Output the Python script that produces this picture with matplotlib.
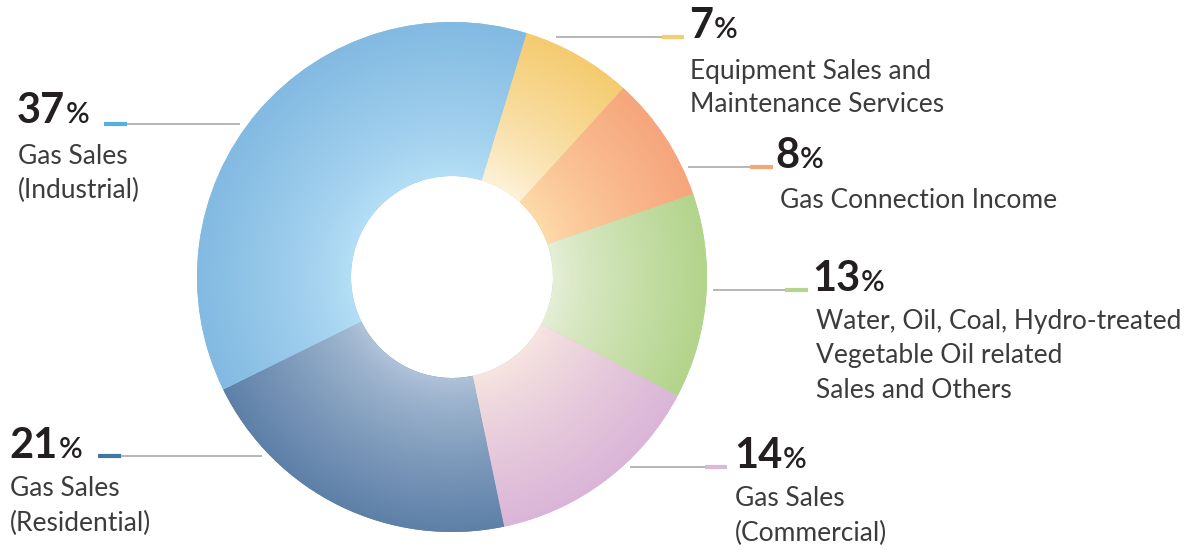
import numpy as np
import matplotlib.pyplot as plt
from matplotlib.colors import to_rgb

# data (clockwise from the top)
labels = [
    ['Equipment Sales and', 'Maintenance Services'],
    ['Gas Connection Income'],
    ['Water, Oil, Coal, Hydro-treated', 'Vegetable Oil related', 'Sales and Others'],
    ['Gas Sales', '(Commercial)'],
    ['Gas Sales', '(Residential)'],
    ['Gas Sales', '(Industrial)'],
]
values = [7, 8, 13, 14, 21, 37]
outer_colors = ['#F5CB70', '#F6A57C', '#B3D48B', '#DAB5D8', '#5E80A8', '#83BAE2']
inner_colors = ['#FDF3DC', '#FEDCAA', '#E6EFD8', '#F7E6E0', '#B0C3D9', '#B5DFF6']
mark_colors = ['#F5CD72', '#F5A77A', '#B5D58E', '#DDB8DA', '#3E77A3', '#55B0E0']

W, H = 1192, 550
cx, cy = 452, H - 277
r_out, r_in = 255, 101

# label layout in pixels (image y goes down)
gray_x = [(556, 662), (688, 750), (713, 785), (630, 705), (121, 262), (127, 240)]
mark_x = [(662, 684), (750, 773), (785, 808), (705, 727), (98, 121), (104, 127)]
line_y = [37, 167, 290, 467, 456, 124]
num_pos = [(689, 38), (775, 168), (812, 291), (734, 468), (9, 458), (17, 123)]
text_pos = [(690, 71), (780, 200), (816, 322), (735, 499), (10, 489), (18, 156)]
step = 34

fig = plt.figure(figsize=(W / 100, H / 100), dpi=100)
ax = fig.add_axes([0, 0, 1, 1])

wedges, _ = ax.pie(values, radius=r_out, center=(cx, cy), startangle=73,
                   counterclock=False, colors=outer_colors,
                   wedgeprops=dict(width=r_out - r_in, linewidth=0))

# radial gradient inside each wedge
xs = np.linspace(cx - r_out, cx + r_out, 600)
ys = np.linspace(cy - r_out, cy + r_out, 600)
gx, gy = np.meshgrid(xs, ys)
t = np.clip((np.hypot(gx - cx, gy - cy) - r_in) / (r_out - r_in), 0, 1)
for w, c0, c1 in zip(wedges, inner_colors, outer_colors):
    a, b = np.array(to_rgb(c0)), np.array(to_rgb(c1))
    img = a + (b - a) * t[..., None] ** 0.8
    im = ax.imshow(img, extent=(xs[0], xs[-1], ys[0], ys[-1]), origin='lower',
                   interpolation='bilinear', zorder=2)
    im.set_clip_path(w)

ax.set_xlim(0, W)
ax.set_ylim(0, H)
ax.set_aspect('equal')
ax.axis('off')

fig.canvas.draw()
renderer = fig.canvas.get_renderer()
for i, v in enumerate(values):
    ax.plot(gray_x[i], [H - line_y[i]] * 2, color='#A3A3A3', lw=1.1,
            solid_capstyle='butt', zorder=3)
    ax.plot(mark_x[i], [H - line_y[i]] * 2, color=mark_colors[i], lw=3,
            solid_capstyle='butt', zorder=4)
    nx, ny = num_pos[i]
    num = ax.text(nx, H - ny, str(v), fontsize=30, fontweight='bold',
                  family='Lato', color='#231F20', va='baseline', ha='left')
    bb = num.get_window_extent(renderer)
    ax.text(bb.x1 + 1, H - ny, '%', fontsize=21, family='Lato',
            fontweight='semibold', color='#231F20', va='baseline', ha='left')
    tx, ty = text_pos[i]
    for k, line in enumerate(labels[i]):
        ax.text(tx, H - ty - k * step, line, fontsize=19, family='Lato',
                fontweight='normal', color='#3C3C3C', va='center', ha='left')

fig.savefig('out.png', dpi=100)
